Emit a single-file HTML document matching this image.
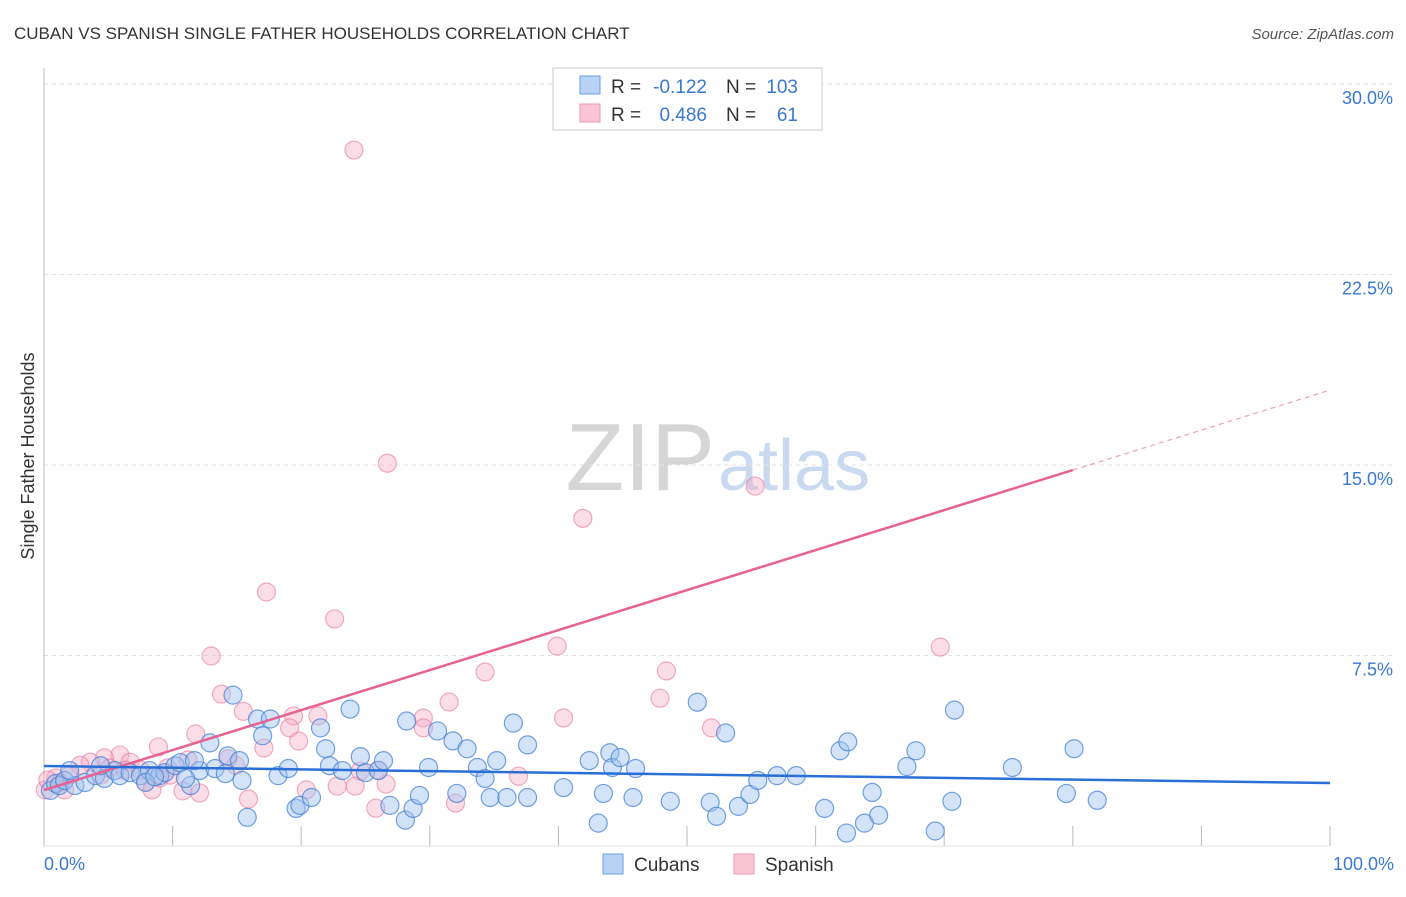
<!DOCTYPE html>
<html><head><meta charset="utf-8"><style>
body{margin:0;background:#fff;font-family:"Liberation Sans",sans-serif}
svg text{font-family:"Liberation Sans",sans-serif}
</style></head><body>
<svg id="chart" width="1406" height="892" viewBox="0 0 1406 892">
<text x="14" y="39" font-size="17" fill="#333">CUBAN VS SPANISH SINGLE FATHER HOUSEHOLDS CORRELATION CHART</text>
<text x="1394" y="39" font-size="15" fill="#555" text-anchor="end" font-style="italic">Source: ZipAtlas.com</text>
<text x="715" y="490" font-size="96" fill="#d6d6d6" text-anchor="end" font-family="Liberation Serif">ZIP</text>
<text x="718" y="490" font-size="72" fill="#c9d9f0">atlas</text>
<g id="grid"></g>
<g id="marks"></g>
<text transform="translate(34,456) rotate(-90)" font-size="18" fill="#333" text-anchor="middle">Single Father Households</text>
<g>
<rect x="553" y="68" width="269" height="62" fill="#fff" stroke="#ccc"/>
<rect x="580" y="76" width="20" height="18" fill="#b7d2f5" stroke="#6a9ee3"/>
<rect x="580" y="104" width="20" height="18" fill="#f9c4d3" stroke="#ec98b2"/>
<text x="611" y="93" font-size="19" fill="#333">R =</text>
<text x="707" y="93" font-size="19" fill="#3a78d4" text-anchor="end">-0.122</text>
<text x="726" y="93" font-size="19" fill="#333">N =</text>
<text x="798" y="93" font-size="19" fill="#3a78d4" text-anchor="end">103</text>
<text x="611" y="121" font-size="19" fill="#333">R =</text>
<text x="707" y="121" font-size="19" fill="#3a78d4" text-anchor="end">0.486</text>
<text x="726" y="121" font-size="19" fill="#333">N =</text>
<text x="798" y="121" font-size="19" fill="#3a78d4" text-anchor="end">61</text>
</g>
<g>
<rect x="603" y="854" width="20" height="20" fill="#b7d2f5" stroke="#6a9ee3"/>
<text x="634" y="871" font-size="19" fill="#333">Cubans</text>
<rect x="734" y="854" width="20" height="20" fill="#f9c4d3" stroke="#ec98b2"/>
<text x="765" y="871" font-size="19" fill="#333">Spanish</text>
</g>
</svg>
<script>
const yTicks=[7.5,15,22.5,30];
const yTickLabels=["7.5%","15.0%","22.5%","30.0%"];
const xTickLabels=["0.0%","100.0%"];
const cubanX=[0.5,0.9,1.2,1.6,2.4,3.2,4.0,4.7,5.5,5.9,6.7,7.5,8.2,9.0,9.4,10.2,10.6,11.4,12.1,12.9,13.3,14.1,14.3,14.7,15.4,15.8,16.6,17.0,17.6,18.2,19.0,19.6,19.9,20.8,21.5,21.9,22.2,23.2,23.8,24.6,25.0,26.0,26.4,26.9,28.1,28.2,28.7,29.2,29.9,30.6,31.8,32.1,32.9,33.7,34.3,34.7,35.2,36.0,36.5,37.6,37.6,40.4,42.4,43.1,43.5,44.0,44.2,44.8,45.8,46.0,48.7,50.8,51.8,52.3,53.0,54.0,54.9,55.5,57.0,58.5,60.7,61.9,62.4,62.5,63.8,64.4,64.9,67.1,67.8,69.3,70.6,70.8,75.3,79.5,80.1,81.9,2.0,4.4,7.9,8.6,11.0,11.7,15.2];
const cubanY=[2.19,2.46,2.38,2.58,2.38,2.5,2.77,2.66,2.97,2.77,2.89,2.77,2.97,2.77,2.89,3.16,3.28,2.38,2.97,4.06,3.05,2.85,3.55,5.94,2.58,1.13,5.0,4.34,5.0,2.77,3.05,1.48,1.6,1.91,4.65,3.83,3.16,2.97,5.39,3.52,2.89,2.97,3.36,1.6,1.02,4.92,1.48,1.99,3.09,4.53,4.14,2.07,3.83,3.09,2.66,1.91,3.36,1.91,4.84,1.91,3.98,2.3,3.36,0.9,2.07,3.67,3.09,3.48,1.91,3.05,1.76,5.66,1.72,1.17,4.45,1.56,2.03,2.58,2.77,2.77,1.48,3.75,0.51,4.1,0.9,2.11,1.21,3.13,3.75,0.59,1.76,5.35,3.09,2.07,3.83,1.8,2.97,3.16,2.5,2.73,2.66,3.36,3.36];
const spanishX=[24.1,26.7,41.9,55.3,17.3,22.6,13.0,39.9,69.7,34.3,48.4,13.8,15.5,31.5,47.9,19.4,21.3,40.4,29.5,51.9,19.1,29.5,11.8,17.1,19.8,8.9,11.2,14.3,5.9,6.7,4.7,3.6,2.8,5.1,7.5,9.6,2.0,0.9,1.2,7.9,9.8,10.8,12.1,8.4,15.9,20.4,22.8,24.2,26.6,25.8,32.0,36.9,26.0,14.9,24.6,0.1,1.6,0.3,4.4,6.3,9.0];
const spanishY=[27.4,15.07,12.9,14.17,10.0,8.94,7.48,7.87,7.83,6.85,6.89,5.98,5.3,5.67,5.82,5.12,5.12,5.04,5.04,4.65,4.65,4.65,4.41,3.86,4.13,3.9,3.39,3.43,3.58,3.3,3.47,3.3,3.18,3.07,2.99,3.07,2.79,2.68,2.48,2.52,2.79,2.17,2.09,2.21,1.85,2.21,2.36,2.36,2.44,1.49,1.69,2.75,2.99,3.18,2.95,2.21,2.21,2.6,2.79,2.99,2.68];
const cubanTrend=[3.15,2.48];
const spanishTrend=[2.2,17.95];
const spanishSolidEnd=80;

const NS="http://www.w3.org/2000/svg";
const X=v=>44+v*12.86;
const Y=v=>846-v*25.4;
function mk(tag,attrs,parent){const e=document.createElementNS(NS,tag);for(const k in attrs)e.setAttribute(k,attrs[k]);parent.appendChild(e);return e;}
const grid=document.getElementById('grid'),marks=document.getElementById('marks'),svg=document.getElementById('chart');
yTicks.forEach((t,i)=>{
  const l=mk('line',{x1:44,x2:1394,y1:Y(t),y2:Y(t),stroke:'#e2e2e2','stroke-dasharray':'4,4'},grid);
  
  
  const tx=mk('text',{x:1393,y:Y(t)+20,'font-size':18,fill:'#3a78d4','text-anchor':'end'},svg);
  tx.textContent=yTickLabels[i];
  
  
});
const ax=mk('line',{x1:44,x2:44,y1:68,y2:846,stroke:'#bbb'},grid);


const bx=mk('line',{x1:44,x2:1330,y1:846,y2:846,stroke:'#e6e6e6'},grid);


for(let i=1;i<=10;i++){
  const t=mk('line',{x1:X(i*10),x2:X(i*10),y1:826,y2:846,stroke:'#bbb'},grid);
  
  
}
[[0,'start',44],[100,'end',1394]].forEach((d,i)=>{
  const tx=mk('text',{x:d[2],y:870,'font-size':18,fill:'#3a78d4','text-anchor':d[1]},svg);
  tx.textContent=xTickLabels[i];
  
  
});
spanishX.forEach((x,i)=>{
  const c=mk('circle',{cx:X(x),cy:Y(spanishY[i]),r:9,fill:'rgba(245,170,195,0.4)',stroke:'rgba(230,120,155,0.6)','stroke-width':1.2},marks);
  
  
});
cubanX.forEach((x,i)=>{
  const c=mk('circle',{cx:X(x),cy:Y(cubanY[i]),r:9,fill:'rgba(160,195,240,0.45)',stroke:'rgba(70,130,215,0.75)','stroke-width':1.2},marks);
  
  
});
const sAt=x=>spanishTrend[0]+(spanishTrend[1]-spanishTrend[0])*x/100;
const ps=mk('line',{x1:X(0),y1:Y(sAt(0)),x2:X(spanishSolidEnd),y2:Y(sAt(spanishSolidEnd)),stroke:'#e8628f','stroke-width':2.5},marks);


const pd=mk('line',{x1:X(spanishSolidEnd),y1:Y(sAt(spanishSolidEnd)),x2:X(100),y2:Y(sAt(100)),stroke:'#f0a0b8','stroke-width':1.2,'stroke-dasharray':'5,4'},marks);


const cb=mk('line',{x1:X(0),y1:Y(cubanTrend[0]),x2:X(100),y2:Y(cubanTrend[1]),stroke:'#2a6fd6','stroke-width':2.5},marks);


</script>
</body></html>
